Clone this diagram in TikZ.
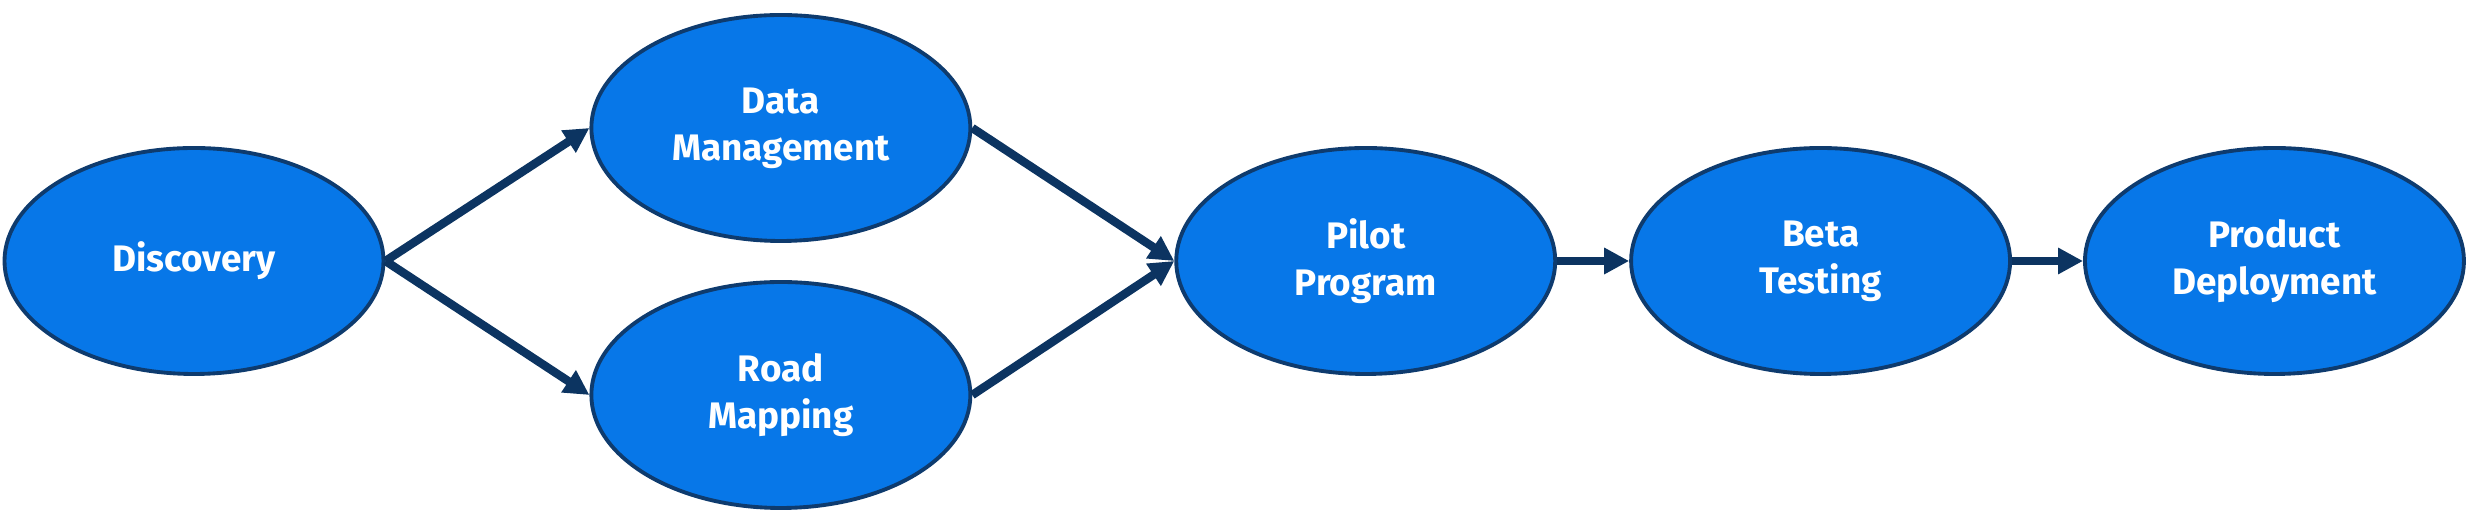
\documentclass[tikz,border=0pt]{standalone}
\usepackage{fontspec}
\setmainfont{Fira Sans}
\usetikzlibrary{arrows.meta,positioning,shapes.geometric}
\definecolor{stageblue}{HTML}{0777E8}
\definecolor{stageedge}{HTML}{0E3B6E}
\definecolor{flownavy}{HTML}{0C3461}

\begin{document}
\begin{tikzpicture}[
    font=\fontsize{10.5}{13.3}\selectfont\bfseries,
    stage/.style={ellipse, draw=stageedge, line width=1.1pt, fill=stageblue, text=white, align=center, minimum width=3.79cm, minimum height=2.26cm, inner sep=0pt},
    arrow/.style={-{Triangle[length=2.5mm, width=2.5mm]}, line width=2.4pt, draw=flownavy}
]
\useasboundingbox (0,0) rectangle (24.7,5.23);
\node[stage] (disc) at (1.94,2.62) {Discovery};
\node[stage, right=2.04cm of disc, yshift=1.33cm] (datamgmt) {Data\\Management};
\node[stage, right=2.04cm of disc, yshift=-1.34cm] (roadmap) {Road\\Mapping};
\node[stage, right=2.02cm of datamgmt, yshift=-1.33cm] (pilot) {Pilot\\Program};
\node[stage, right=0.72cm of pilot] (beta) {Beta\\Testing};
\node[stage, right=0.71cm of beta] (deploy) {Product\\Deployment};

\draw[arrow] (disc.east) -- (datamgmt.west);
\draw[arrow] (disc.east) -- (roadmap.west);
\draw[arrow] (datamgmt.east) -- (pilot.west);
\draw[arrow] (roadmap.east) -- (pilot.west);
\draw[arrow] (pilot) -- (beta);
\draw[arrow] (beta) -- (deploy);
\end{tikzpicture}
\end{document}
